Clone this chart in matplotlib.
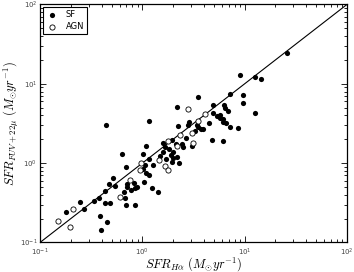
import matplotlib

matplotlib.use("Agg")

import matplotlib.pyplot as plt
import numpy as np

plt.rcParams["mathtext.fontset"] = "cm"

# star-forming galaxies: SFR(Halpha), SFR(FUV+22mu)
sf_x = [0.180, 0.246, 0.269, 0.337, 0.377, 0.386, 0.452, 0.395, 0.432, 0.483,
        0.432, 0.472, 0.517, 0.541, 0.442, 0.288, 0.633, 0.662, 0.677, 0.692,
        0.708, 0.708, 0.775, 0.848, 0.829, 0.887, 1.038, 0.692, 0.848, 1.015,
        1.086, 1.162, 1.272, 1.062, 1.015, 1.086, 1.162, 1.243, 1.423, 1.162,
        1.592, 1.950, 2.133, 1.666, 1.823, 1.994, 1.592, 1.488, 1.906, 1.994,
        1.703, 2.182, 1.950, 2.283, 2.232, 2.182, 3.499, 7.190, 9.634, 9.634,
        4.904, 6.282, 6.426, 6.875, 12.62, 4.904, 5.367, 5.741, 5.741, 6.142,
        6.142, 6.572, 4.482, 2.858, 2.795, 3.421, 7.190, 8.609, 3.499, 3.743,
        3.915, 3.271, 2.672, 4.795, 6.142, 2.442, 2.497, 3.058, 25.93, 9.006,
        12.62, 14.44]
sf_y = [0.242, 0.324, 0.264, 0.334, 0.364, 0.216, 0.181, 0.144, 0.315, 0.315,
        0.446, 0.546, 0.650, 0.516, 3.03, 0.096, 1.305, 0.433, 0.364, 0.297,
        0.546, 0.501, 0.459, 0.486, 0.562, 0.501, 0.579, 0.895, 0.297, 1.305,
        1.646, 1.129, 0.948, 0.948, 0.844, 0.752, 0.709, 0.486, 0.433, 3.401,
        1.796, 1.959, 1.745, 1.599, 1.509, 1.383, 1.383, 1.231, 1.268, 1.162,
        1.129, 1.196, 1.034, 1.005, 2.941, 5.107, 6.826, 7.447, 7.235, 5.734,
        5.411, 5.411, 4.961, 4.546, 4.289, 4.289, 3.932, 4.047, 3.710, 3.605,
        3.304, 3.209, 3.209, 3.304, 3.028, 3.028, 2.857, 2.775, 2.857, 2.696,
        2.696, 2.544, 2.076, 1.959, 1.904, 1.745, 1.599, 1.646, 24.48, 12.93,
        12.20, 11.51]

# AGN hosts
agn_x = [0.150, 0.196, 0.210, 0.605, 0.758, 0.971, 0.949, 1.782, 2.182, 1.455,
         1.666, 1.782, 2.795, 4.096, 3.499, 3.058, 3.128, 2.33]
agn_y = [0.187, 0.157, 0.264, 0.375, 0.614, 1.005, 0.820, 1.904, 1.65, 1.096,
         0.921, 0.820, 4.818, 4.167, 3.401, 2.400, 1.796, 2.26]

fig = plt.figure(figsize=(3.54, 2.72), dpi=100)
ax = fig.add_axes([0.113, 0.1085, 0.867, 0.875])

one_to_one = np.array([0.1, 100.0])
ax.plot(one_to_one, one_to_one, color="black", lw=0.8, zorder=1)

ax.scatter(sf_x, sf_y, s=14, color="black", lw=0, label="SF", zorder=3)
ax.scatter(agn_x, agn_y, s=14, facecolor="white", edgecolor="black",
           lw=0.6, label="AGN", zorder=3)

ax.set_xscale("log")
ax.set_yscale("log")
ax.set_xlim(0.1, 100)
ax.set_ylim(0.1, 100)

ax.tick_params(which="both", direction="in", top=True, right=True,
               labelsize=5, width=0.6)
ax.tick_params(axis="x", pad=3)
ax.tick_params(axis="y", pad=2)
ax.tick_params(which="major", length=4)
ax.tick_params(which="minor", length=2)
for lbl in ax.get_xticklabels() + ax.get_yticklabels():
    lbl.set_color("#444444")
for sp in ax.spines.values():
    sp.set_linewidth(0.9)

ax.set_xlabel(r"$SFR_{H\alpha}\ (M_{\odot}yr^{-1})$", fontsize=9, labelpad=-2)
ax.set_ylabel(r"$SFR_{FUV+22\mu}\ (M_{\odot}yr^{-1})$", fontsize=9, labelpad=-1)

leg = ax.legend(loc="upper left", scatterpoints=1, fontsize=6,
                fancybox=False, edgecolor="black", framealpha=1,
                borderpad=0.35, handletextpad=1.0, labelspacing=0.35,
                borderaxespad=0.35, handlelength=1.4)
leg.get_frame().set_linewidth(0.8)

fig.savefig("out.png", dpi=100)
